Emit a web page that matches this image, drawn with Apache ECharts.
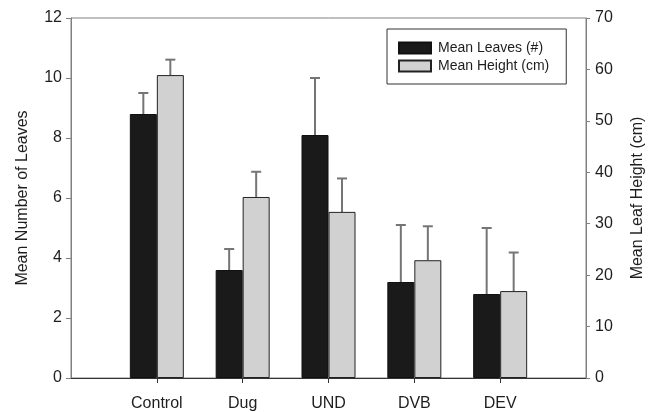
<!DOCTYPE html>
<html>
<head>
<meta charset="utf-8">
<script src="https://cdn.jsdelivr.net/npm/echarts@6/dist/echarts.min.js"></script>
<style>
html,body{margin:0;padding:0;background:#fff;}
#chart{width:657px;height:412px;}
</style>
</head>
<body>
<div id="chart"></div>
<script>
// ---- data ----
const categories = ['Control', 'Dug', 'UND', 'DVB', 'DEV'];
const meanLeaves = [8.8, 3.6, 8.1, 3.2, 2.8];
const meanLeavesErr = [0.7, 0.7, 1.9, 1.9, 2.2];
const meanHeight = [58.9, 35.2, 32.3, 22.9, 16.9];
const meanHeightErr = [3.0, 4.9, 6.5, 6.6, 7.5];
const leftTicks = [0, 2, 4, 6, 8, 10, 12];
const rightTicks = [0, 10, 20, 30, 40, 50, 60, 70];

// axis has an empty slot at each end (SigmaPlot style 0..6 axis)
const axisCats = [''].concat(categories, ['']);
const pad = arr => [null].concat(arr, [null]);

const BAR_W = 27;
const FONT = 'Liberation Sans, Arial, Helvetica, sans-serif';
const TXT = '#1e1e1e';

function errData(means, errs) {
  return means.map((m, i) => [i + 1, m, m + errs[i]]);
}
function errRender(offset) {
  return function (params, api) {
    const x = api.value(0);
    const base = api.coord([x, api.value(1)]);
    const top = api.coord([x, api.value(2)]);
    const cx = base[0] + offset;
    const style = { stroke: '#757575', lineWidth: 2 };
    return {
      type: 'group',
      children: [
        { type: 'line', shape: { x1: cx, y1: base[1], x2: cx, y2: top[1] }, style: style },
        { type: 'line', shape: { x1: cx - 5, y1: top[1], x2: cx + 5, y2: top[1] }, style: style }
      ]
    };
  };
}

const chart = echarts.init(document.getElementById('chart'), null, { renderer: 'canvas' });
chart.setOption({
  animation: false,
  backgroundColor: '#fff',
  textStyle: { fontFamily: FONT, color: TXT },
  grid: {
    left: 71, right: 71, top: 18, bottom: 33,
    show: true, borderColor: '#808080', borderWidth: 1, backgroundColor: 'transparent'
  },
  legend: {
    orient: 'vertical',
    left: 387, top: 29,
    padding: [12, 17, 11, 11],
    itemGap: 4,
    itemWidth: 32, itemHeight: 11,
    borderColor: '#333', borderWidth: 1,
    backgroundColor: '#fff',
    icon: 'rect',
    textStyle: { fontFamily: FONT, fontSize: 14, color: TXT, padding: [0, 0, 0, 2] },
    data: ['Mean Leaves (#)', 'Mean Height (cm)']
  },
  xAxis: {
    type: 'category',
    data: axisCats,
    boundaryGap: false,
    axisLine: { lineStyle: { color: '#333', width: 1 } },
    axisTick: { length: 5, lineStyle: { color: '#333' }, interval: (i, v) => v !== '' },
    axisLabel: { interval: 0, fontSize: 16, color: TXT, margin: 18, fontFamily: FONT },
    splitLine: { show: false }
  },
  yAxis: [
    {
      type: 'value', min: 0, max: 12, interval: 2,
      name: 'Mean Number of Leaves', nameLocation: 'middle', nameGap: 40,
      nameTextStyle: { fontSize: 16, color: TXT, fontFamily: FONT },
      axisLine: { show: true, lineStyle: { color: '#808080' } },
      axisTick: { show: true, length: 5, lineStyle: { color: '#808080' } },
      axisLabel: { fontSize: 16, color: TXT, margin: 9, fontFamily: FONT,
        formatter: v => leftTicks.includes(v) ? String(v) : '' },
      splitLine: { show: false }
    },
    {
      type: 'value', min: 0, max: 70, interval: 10, position: 'right',
      name: 'Mean Leaf Height (cm)', nameLocation: 'middle', nameGap: 44,
      nameTextStyle: { fontSize: 16, color: TXT, fontFamily: FONT },
      axisLine: { show: true, lineStyle: { color: '#808080' } },
      axisTick: { show: true, length: 4, lineStyle: { color: '#808080' } },
      axisLabel: { fontSize: 16, color: TXT, margin: 9, fontFamily: FONT,
        formatter: v => rightTicks.includes(v) ? String(v) : '' },
      splitLine: { show: false }
    }
  ],
  series: [
    {
      name: 'Mean Leaves (#)', type: 'bar', yAxisIndex: 0,
      data: pad(meanLeaves), barWidth: BAR_W, barGap: '0%',
      itemStyle: { color: '#1a1a1a', borderColor: '#111', borderWidth: 1 },
      z: 3
    },
    {
      name: 'Mean Height (cm)', type: 'bar', yAxisIndex: 1,
      data: pad(meanHeight), barWidth: BAR_W, barGap: '0%',
      itemStyle: { color: '#d1d1d1', borderColor: '#222', borderWidth: 1 },
      z: 3
    },
    {
      name: 'leavesErr', type: 'custom', yAxisIndex: 0,
      data: errData(meanLeaves, meanLeavesErr),
      renderItem: errRender(-BAR_W / 2), z: 2, silent: true
    },
    {
      name: 'heightErr', type: 'custom', yAxisIndex: 1,
      data: errData(meanHeight, meanHeightErr),
      renderItem: errRender(BAR_W / 2), z: 2, silent: true
    }
  ]
});
</script>
</body>
</html>
